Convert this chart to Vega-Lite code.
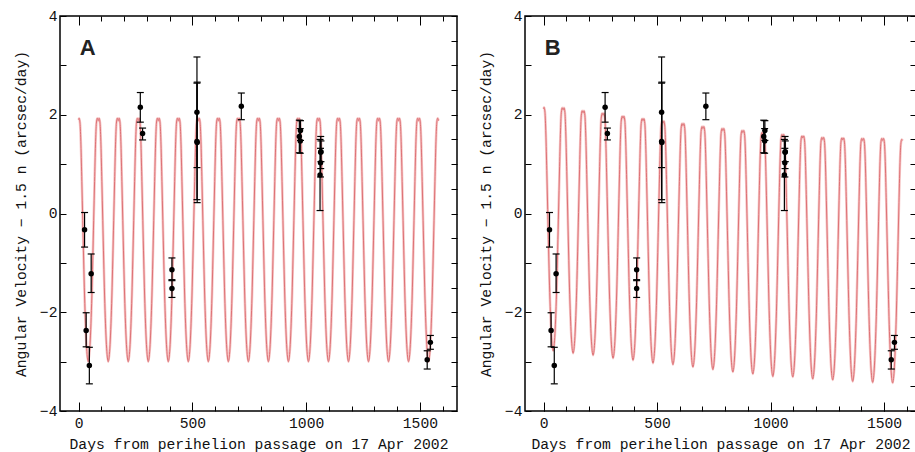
{
"$schema": "https://vega.github.io/schema/vega-lite/v6.json",
"background": "white",
"padding": {"left": 12, "top": 7, "right": 0, "bottom": 0},
"config": {
 "view": {"stroke": "#000", "strokeWidth": 1.5},
 "axis": {"domain": false, "grid": false, "labelFlush": false, "labelFont": "Liberation Mono", "labelFontSize": 14.7, "labelColor": "#111", "titleFont": "Liberation Mono", "titleFontSize": 14.7, "titleFontWeight": "normal", "titleColor": "#111", "tickColor": "#000", "tickWidth": 1}
},
"datasets": {
 "obs": [
  {"d":26,"v":-0.33,"lo":-0.68,"hi":0.02},
  {"d":33,"v":-2.37,"lo":-2.70,"hi":-2.01},
  {"d":47,"v":-3.08,"lo":-3.45,"hi":-2.71},
  {"d":55,"v":-1.22,"lo":-1.60,"hi":-0.82},
  {"d":271,"v":2.15,"lo":1.85,"hi":2.45},
  {"d":281,"v":1.62,"lo":1.49,"hi":1.73},
  {"d":410,"v":-1.14,"lo":-1.34,"hi":-0.90},
  {"d":410,"v":-1.52,"lo":-1.70,"hi":-1.36},
  {"d":520,"v":2.05,"lo":0.93,"hi":3.17},
  {"d":520,"v":1.46,"lo":0.28,"hi":2.64},
  {"d":521,"v":1.44,"lo":0.22,"hi":2.66},
  {"d":715,"v":2.17,"lo":1.90,"hi":2.44},
  {"d":970,"v":1.56,"lo":1.23,"hi":1.89},
  {"d":975,"v":1.68,"lo":1.48,"hi":1.88},
  {"d":974,"v":1.47,"lo":1.22,"hi":1.72},
  {"d":1061,"v":0.78,"lo":0.06,"hi":1.50},
  {"d":1063,"v":1.03,"lo":0.74,"hi":1.32},
  {"d":1064,"v":1.24,"lo":0.91,"hi":1.56},
  {"d":1065,"v":1.25,"lo":1.05,"hi":1.47},
  {"d":1532,"v":-2.96,"lo":-3.15,"hi":-2.78},
  {"d":1546,"v":-2.61,"lo":-2.75,"hi":-2.47}
 ],
 "curve": [
  {"d":0,"a":1.9,"b":2.12},
  {"d":2,"a":1.93,"b":2.15},{"d":6,"a":1.83,"b":2.05},{"d":10,"a":1.39,"b":1.61},{"d":14,"a":0.65,"b":0.87},{"d":18,"a":-0.14,"b":0.08},{"d":26,"a":-1.67,"b":-1.45},{"d":34,"a":-2.65,"b":-2.43},{"d":42,"a":-3,"b":-2.78},{"d":50,"a":-2.65,"b":-2.43},{"d":58,"a":-1.67,"b":-1.45},{"d":66,"a":-0.14,"b":0.07},{"d":70,"a":0.65,"b":0.86},{"d":74,"a":1.39,"b":1.60},{"d":78,"a":1.83,"b":2.04},{"d":82,"a":1.93,"b":2.14},{"d":86,"a":1.88,"b":2.10},
  {"d":90,"a":1.93,"b":2.14},{"d":94,"a":1.83,"b":2.04},{"d":98,"a":1.39,"b":1.59},{"d":102,"a":0.65,"b":0.85},{"d":106,"a":-0.14,"b":0.05},{"d":114,"a":-1.67,"b":-1.49},{"d":122,"a":-2.65,"b":-2.48},{"d":130,"a":-3,"b":-2.83},{"d":138,"a":-2.65,"b":-2.49},{"d":146,"a":-1.67,"b":-1.50},{"d":154,"a":-0.14,"b":0.02},{"d":158,"a":0.65,"b":0.80},{"d":162,"a":1.39,"b":1.54},{"d":166,"a":1.83,"b":1.98},{"d":170,"a":1.93,"b":2.08},{"d":174,"a":1.88,"b":2.04},
  {"d":178,"a":1.93,"b":2.08},{"d":182,"a":1.83,"b":1.98},{"d":186,"a":1.39,"b":1.54},{"d":190,"a":0.65,"b":0.79},{"d":194,"a":-0.14,"b":0.00},{"d":202,"a":-1.67,"b":-1.53},{"d":210,"a":-2.65,"b":-2.52},{"d":218,"a":-3,"b":-2.87},{"d":226,"a":-2.65,"b":-2.53},{"d":234,"a":-1.67,"b":-1.55},{"d":242,"a":-0.14,"b":-0.03},{"d":246,"a":0.65,"b":0.76},{"d":250,"a":1.39,"b":1.49},{"d":254,"a":1.83,"b":1.93},{"d":258,"a":1.93,"b":2.03},{"d":262,"a":1.88,"b":1.99},
  {"d":266,"a":1.93,"b":2.03},{"d":270,"a":1.83,"b":1.93},{"d":274,"a":1.39,"b":1.48},{"d":278,"a":0.65,"b":0.74},{"d":282,"a":-0.14,"b":-0.05},{"d":290,"a":-1.67,"b":-1.59},{"d":298,"a":-2.65,"b":-2.58},{"d":306,"a":-3,"b":-2.93},{"d":314,"a":-2.65,"b":-2.59},{"d":322,"a":-1.67,"b":-1.61},{"d":330,"a":-0.14,"b":-0.09},{"d":334,"a":0.65,"b":0.70},{"d":338,"a":1.39,"b":1.43},{"d":342,"a":1.83,"b":1.87},{"d":346,"a":1.93,"b":1.97},{"d":350,"a":1.88,"b":1.93},
  {"d":354,"a":1.93,"b":1.97},{"d":358,"a":1.83,"b":1.87},{"d":362,"a":1.39,"b":1.43},{"d":366,"a":0.65,"b":0.69},{"d":370,"a":-0.14,"b":-0.10},{"d":378,"a":-1.67,"b":-1.64},{"d":386,"a":-2.65,"b":-2.62},{"d":394,"a":-3,"b":-2.97},{"d":402,"a":-2.65,"b":-2.63},{"d":410,"a":-1.67,"b":-1.65},{"d":418,"a":-0.14,"b":-0.13},{"d":422,"a":0.65,"b":0.65},{"d":426,"a":1.39,"b":1.38},{"d":430,"a":1.83,"b":1.82},{"d":434,"a":1.93,"b":1.92},{"d":438,"a":1.88,"b":1.88},
  {"d":442,"a":1.93,"b":1.92},{"d":446,"a":1.83,"b":1.82},{"d":450,"a":1.39,"b":1.38},{"d":454,"a":0.65,"b":0.63},{"d":458,"a":-0.14,"b":-0.16},{"d":466,"a":-1.67,"b":-1.69},{"d":474,"a":-2.65,"b":-2.68},{"d":482,"a":-3,"b":-3.03},{"d":490,"a":-2.65,"b":-2.69},{"d":498,"a":-1.67,"b":-1.71},{"d":506,"a":-0.14,"b":-0.19},{"d":510,"a":0.65,"b":0.60},{"d":514,"a":1.39,"b":1.33},{"d":518,"a":1.83,"b":1.77},{"d":522,"a":1.93,"b":1.87},{"d":526,"a":1.88,"b":1.83},
  {"d":530,"a":1.93,"b":1.87},{"d":534,"a":1.83,"b":1.77},{"d":538,"a":1.39,"b":1.33},{"d":542,"a":0.65,"b":0.59},{"d":546,"a":-0.14,"b":-0.20},{"d":554,"a":-1.67,"b":-1.73},{"d":562,"a":-2.65,"b":-2.72},{"d":570,"a":-3,"b":-3.06},{"d":578,"a":-2.65,"b":-2.72},{"d":586,"a":-1.67,"b":-1.74},{"d":594,"a":-0.14,"b":-0.23},{"d":598,"a":0.65,"b":0.55},{"d":602,"a":1.39,"b":1.28},{"d":606,"a":1.83,"b":1.72},{"d":610,"a":1.93,"b":1.82},{"d":614,"a":1.88,"b":1.78},
  {"d":618,"a":1.93,"b":1.82},{"d":622,"a":1.83,"b":1.72},{"d":626,"a":1.39,"b":1.28},{"d":630,"a":0.65,"b":0.54},{"d":634,"a":-0.14,"b":-0.25},{"d":642,"a":-1.67,"b":-1.78},{"d":650,"a":-2.65,"b":-2.77},{"d":658,"a":-3,"b":-3.11},{"d":666,"a":-2.65,"b":-2.77},{"d":674,"a":-1.67,"b":-1.80},{"d":682,"a":-0.14,"b":-0.29},{"d":686,"a":0.65,"b":0.49},{"d":690,"a":1.39,"b":1.22},{"d":694,"a":1.83,"b":1.66},{"d":698,"a":1.93,"b":1.76},{"d":702,"a":1.88,"b":1.72},
  {"d":706,"a":1.93,"b":1.76},{"d":710,"a":1.83,"b":1.66},{"d":714,"a":1.39,"b":1.22},{"d":718,"a":0.65,"b":0.48},{"d":722,"a":-0.14,"b":-0.31},{"d":730,"a":-1.67,"b":-1.83},{"d":738,"a":-2.65,"b":-2.82},{"d":746,"a":-3,"b":-3.16},{"d":754,"a":-2.65,"b":-2.82},{"d":762,"a":-1.67,"b":-1.84},{"d":770,"a":-0.14,"b":-0.33},{"d":774,"a":0.65,"b":0.45},{"d":778,"a":1.39,"b":1.18},{"d":782,"a":1.83,"b":1.62},{"d":786,"a":1.93,"b":1.72},{"d":790,"a":1.88,"b":1.68},
  {"d":794,"a":1.93,"b":1.72},{"d":798,"a":1.83,"b":1.62},{"d":802,"a":1.39,"b":1.18},{"d":806,"a":0.65,"b":0.44},{"d":810,"a":-0.14,"b":-0.35},{"d":818,"a":-1.67,"b":-1.88},{"d":826,"a":-2.65,"b":-2.87},{"d":834,"a":-3,"b":-3.21},{"d":842,"a":-2.65,"b":-2.87},{"d":850,"a":-1.67,"b":-1.89},{"d":858,"a":-0.14,"b":-0.37},{"d":862,"a":0.65,"b":0.41},{"d":866,"a":1.39,"b":1.14},{"d":870,"a":1.83,"b":1.58},{"d":874,"a":1.93,"b":1.68},{"d":878,"a":1.88,"b":1.64},
  {"d":882,"a":1.93,"b":1.68},{"d":886,"a":1.83,"b":1.58},{"d":890,"a":1.39,"b":1.14},{"d":894,"a":0.65,"b":0.40},{"d":898,"a":-0.14,"b":-0.39},{"d":906,"a":-1.67,"b":-1.92},{"d":914,"a":-2.65,"b":-2.91},{"d":922,"a":-3,"b":-3.25},{"d":930,"a":-2.65,"b":-2.91},{"d":938,"a":-1.67,"b":-1.93},{"d":946,"a":-0.14,"b":-0.41},{"d":950,"a":0.65,"b":0.37},{"d":954,"a":1.39,"b":1.10},{"d":958,"a":1.83,"b":1.54},{"d":962,"a":1.93,"b":1.64},{"d":966,"a":1.88,"b":1.60},
  {"d":970,"a":1.93,"b":1.64},{"d":974,"a":1.83,"b":1.54},{"d":978,"a":1.39,"b":1.10},{"d":982,"a":0.65,"b":0.36},{"d":986,"a":-0.14,"b":-0.44},{"d":994,"a":-1.67,"b":-1.97},{"d":1002,"a":-2.65,"b":-2.95},{"d":1010,"a":-3,"b":-3.30},{"d":1018,"a":-2.65,"b":-2.96},{"d":1026,"a":-1.67,"b":-1.98},{"d":1034,"a":-0.14,"b":-0.46},{"d":1038,"a":0.65,"b":0.33},{"d":1042,"a":1.39,"b":1.06},{"d":1046,"a":1.83,"b":1.50},{"d":1050,"a":1.93,"b":1.60},{"d":1054,"a":1.88,"b":1.56},
  {"d":1058,"a":1.93,"b":1.60},{"d":1062,"a":1.83,"b":1.50},{"d":1066,"a":1.39,"b":1.06},{"d":1070,"a":0.65,"b":0.32},{"d":1074,"a":-0.14,"b":-0.46},{"d":1082,"a":-1.67,"b":-1.98},{"d":1090,"a":-2.65,"b":-2.97},{"d":1098,"a":-3,"b":-3.31},{"d":1106,"a":-2.65,"b":-2.97},{"d":1114,"a":-1.67,"b":-1.99},{"d":1122,"a":-0.14,"b":-0.48},{"d":1126,"a":0.65,"b":0.30},{"d":1130,"a":1.39,"b":1.03},{"d":1134,"a":1.83,"b":1.47},{"d":1138,"a":1.93,"b":1.57},{"d":1142,"a":1.88,"b":1.53},
  {"d":1146,"a":1.93,"b":1.57},{"d":1150,"a":1.83,"b":1.47},{"d":1154,"a":1.39,"b":1.03},{"d":1158,"a":0.65,"b":0.29},{"d":1162,"a":-0.14,"b":-0.50},{"d":1170,"a":-1.67,"b":-2.02},{"d":1178,"a":-2.65,"b":-3.01},{"d":1186,"a":-3,"b":-3.35},{"d":1194,"a":-2.65,"b":-3.01},{"d":1202,"a":-1.67,"b":-2.03},{"d":1210,"a":-0.14,"b":-0.51},{"d":1214,"a":0.65,"b":0.27},{"d":1218,"a":1.39,"b":1.00},{"d":1222,"a":1.83,"b":1.44},{"d":1226,"a":1.93,"b":1.54},{"d":1230,"a":1.88,"b":1.50},
  {"d":1234,"a":1.93,"b":1.54},{"d":1238,"a":1.83,"b":1.44},{"d":1242,"a":1.39,"b":1.00},{"d":1246,"a":0.65,"b":0.26},{"d":1250,"a":-0.14,"b":-0.52},{"d":1258,"a":-1.67,"b":-2.04},{"d":1266,"a":-2.65,"b":-3.03},{"d":1274,"a":-3,"b":-3.37},{"d":1282,"a":-2.65,"b":-3.03},{"d":1290,"a":-1.67,"b":-2.05},{"d":1298,"a":-0.14,"b":-0.53},{"d":1302,"a":0.65,"b":0.26},{"d":1306,"a":1.39,"b":0.99},{"d":1310,"a":1.83,"b":1.43},{"d":1314,"a":1.93,"b":1.53},{"d":1318,"a":1.88,"b":1.49},
  {"d":1322,"a":1.93,"b":1.53},{"d":1326,"a":1.83,"b":1.43},{"d":1330,"a":1.39,"b":0.99},{"d":1334,"a":0.65,"b":0.25},{"d":1338,"a":-0.14,"b":-0.54},{"d":1346,"a":-1.67,"b":-2.07},{"d":1354,"a":-2.65,"b":-3.06},{"d":1362,"a":-3,"b":-3.40},{"d":1370,"a":-2.65,"b":-3.06},{"d":1378,"a":-1.67,"b":-2.07},{"d":1386,"a":-0.14,"b":-0.55},{"d":1390,"a":0.65,"b":0.24},{"d":1394,"a":1.39,"b":0.98},{"d":1398,"a":1.83,"b":1.42},{"d":1402,"a":1.93,"b":1.52},{"d":1406,"a":1.88,"b":1.48},
  {"d":1410,"a":1.93,"b":1.52},{"d":1414,"a":1.83,"b":1.42},{"d":1418,"a":1.39,"b":0.98},{"d":1422,"a":0.65,"b":0.24},{"d":1426,"a":-0.14,"b":-0.56},{"d":1434,"a":-1.67,"b":-2.09},{"d":1442,"a":-2.65,"b":-3.07},{"d":1450,"a":-3,"b":-3.42},{"d":1458,"a":-2.65,"b":-3.07},{"d":1466,"a":-1.67,"b":-2.09},{"d":1474,"a":-0.14,"b":-0.56},{"d":1478,"a":0.65,"b":0.24},{"d":1482,"a":1.39,"b":0.98},{"d":1486,"a":1.83,"b":1.42},{"d":1490,"a":1.93,"b":1.52},{"d":1494,"a":1.88,"b":1.48},
  {"d":1498,"a":1.93,"b":1.52},{"d":1502,"a":1.83,"b":1.42},{"d":1506,"a":1.39,"b":0.98},{"d":1510,"a":0.65,"b":0.23},{"d":1514,"a":-0.14,"b":-0.56},{"d":1522,"a":-1.67,"b":-2.09},{"d":1530,"a":-2.65,"b":-3.08},{"d":1538,"a":-3,"b":-3.43},{"d":1546,"a":-2.65,"b":-3.09},{"d":1554,"a":-1.67,"b":-2.10},{"d":1562,"a":-0.14,"b":-0.57},{"d":1566,"a":0.65,"b":0.22},{"d":1570,"a":1.39,"b":0.96},{"d":1574,"a":1.83,"b":1.40},{"d":1578,"a":1.93,"b":1.50},{"d":1582,"a":1.88,"b":1.48}
 ]
},
"hconcat": [
 {
  "width": 397, "height": 395,
  "resolve": {"scale": {"x": "independent", "y": "independent"}},
  "layer": [
   {"layer": [
    {"data": {"name": "curve"}, "mark": {"type": "line", "interpolate": "monotone", "color": "#f6c6c6", "strokeWidth": 2.6},
     "encoding": {
      "x": {"field": "d", "type": "quantitative", "scale": {"domain": [-82, 1663], "nice": false, "zero": false},
       "axis": {"orient": "bottom", "values": [0, 500, 1000, 1500], "format": "d", "tickSize": -9, "labelPadding": 13, "minExtent": 22, "maxExtent": 22, "title": "Days from perihelion passage on 17 Apr 2002", "titlePadding": 3}},
      "y": {"field": "a", "type": "quantitative", "scale": {"domain": [-4, 4], "nice": false, "zero": false},
       "axis": {"orient": "left", "values": [-4,-3.5,-3,-2.5,-2,-1.5,-1,-0.5,0,0.5,1,1.5,2,2.5,3,3.5,4], "tickSize": -6, "labelPadding": 9, "labelExpr": "datum.value % 2 === 0 ? format(datum.value, 'd') : ''", "minExtent": 23, "maxExtent": 23, "title": "Angular Velocity − 1.5 n (arcsec/day)", "titlePadding": 9}}}},
    {"data": {"name": "curve"}, "mark": {"type": "line", "interpolate": "monotone", "color": "#de7276", "strokeWidth": 1},
     "encoding": {"x": {"field": "d", "type": "quantitative"}, "y": {"field": "a", "type": "quantitative"}}},
    {"data": {"name": "obs"}, "mark": {"type": "rule", "color": "#000", "strokeWidth": 1.2},
     "encoding": {"x": {"field": "d", "type": "quantitative"}, "y": {"field": "lo", "type": "quantitative"}, "y2": {"field": "hi"}}},
    {"data": {"name": "obs"}, "mark": {"type": "tick", "orient": "horizontal", "color": "#000", "size": 7, "thickness": 1.2, "opacity": 1},
     "encoding": {"x": {"field": "d", "type": "quantitative"}, "y": {"field": "lo", "type": "quantitative"}}},
    {"data": {"name": "obs"}, "mark": {"type": "tick", "orient": "horizontal", "color": "#000", "size": 7, "thickness": 1.2, "opacity": 1},
     "encoding": {"x": {"field": "d", "type": "quantitative"}, "y": {"field": "hi", "type": "quantitative"}}},
    {"data": {"name": "obs"}, "mark": {"type": "circle", "color": "#000", "size": 30, "opacity": 1},
     "encoding": {"x": {"field": "d", "type": "quantitative"}, "y": {"field": "v", "type": "quantitative"}}},
    {"data": {"values": [{}]}, "mark": {"type": "text", "text": "A", "font": "Liberation Sans", "fontSize": 22, "fontWeight": "bold", "align": "left", "baseline": "alphabetic", "color": "#222"},
     "encoding": {"x": {"datum": 5, "type": "quantitative"}, "y": {"datum": 3.22, "type": "quantitative"}}}
   ]},
   {"data": {"name": "obs"}, "mark": {"type": "point", "opacity": 0},
    "encoding": {
     "x": {"field": "d", "type": "quantitative", "scale": {"domain": [-82, 1663], "nice": false, "zero": false},
      "axis": {"orient": "bottom", "values": [0,100,200,300,400,500,600,700,800,900,1000,1100,1200,1300,1400,1500,1600], "tickSize": -5, "labels": false, "title": null}},
     "y": {"field": "v", "type": "quantitative", "scale": {"domain": [-4, 4], "nice": false, "zero": false},
      "axis": {"orient": "right", "values": [-4,-3.5,-3,-2.5,-2,-1.5,-1,-0.5,0,0.5,1,1.5,2,2.5,3,3.5,4], "tickSize": -6, "labels": false, "title": null}}}},
   {"data": {"name": "obs"}, "mark": {"type": "point", "opacity": 0},
    "encoding": {
     "x": {"field": "d", "type": "quantitative", "scale": {"domain": [-82, 1663], "nice": false, "zero": false},
      "axis": {"orient": "top", "values": [0, 500, 1000, 1500], "tickSize": -9, "labels": false, "title": null}},
     "y": {"field": "v", "type": "quantitative", "scale": {"domain": [-4, 4], "nice": false, "zero": false}, "axis": null}}},
   {"data": {"name": "obs"}, "mark": {"type": "point", "opacity": 0},
    "encoding": {
     "x": {"field": "d", "type": "quantitative", "scale": {"domain": [-82, 1663], "nice": false, "zero": false},
      "axis": {"orient": "top", "values": [0,100,200,300,400,500,600,700,800,900,1000,1100,1200,1300,1400,1500,1600], "tickSize": -5, "labels": false, "title": null}},
     "y": {"field": "v", "type": "quantitative", "scale": {"domain": [-4, 4], "nice": false, "zero": false}, "axis": null}}}
  ]
 },
 {
  "width": 391, "height": 395,
  "resolve": {"scale": {"x": "independent", "y": "independent"}},
  "layer": [
   {"layer": [
    {"data": {"name": "curve"}, "mark": {"type": "line", "interpolate": "monotone", "color": "#f6c6c6", "strokeWidth": 2.6},
     "encoding": {
      "x": {"field": "d", "type": "quantitative", "scale": {"domain": [-82, 1641], "nice": false, "zero": false},
       "axis": {"orient": "bottom", "values": [0, 500, 1000, 1500], "format": "d", "tickSize": -9, "labelPadding": 13, "minExtent": 22, "maxExtent": 22, "title": "Days from perihelion passage on 17 Apr 2002", "titlePadding": 3}},
      "y": {"field": "b", "type": "quantitative", "scale": {"domain": [-4, 4], "nice": false, "zero": false},
       "axis": {"orient": "left", "values": [-4,-3.5,-3,-2.5,-2,-1.5,-1,-0.5,0,0.5,1,1.5,2,2.5,3,3.5,4], "tickSize": -6, "labelPadding": 9, "labelExpr": "datum.value % 2 === 0 ? format(datum.value, 'd') : ''", "minExtent": 23, "maxExtent": 23, "title": "Angular Velocity − 1.5 n (arcsec/day)", "titlePadding": 9}}}},
    {"data": {"name": "curve"}, "mark": {"type": "line", "interpolate": "monotone", "color": "#de7276", "strokeWidth": 1},
     "encoding": {"x": {"field": "d", "type": "quantitative"}, "y": {"field": "b", "type": "quantitative"}}},
    {"data": {"name": "obs"}, "mark": {"type": "rule", "color": "#000", "strokeWidth": 1.2},
     "encoding": {"x": {"field": "d", "type": "quantitative"}, "y": {"field": "lo", "type": "quantitative"}, "y2": {"field": "hi"}}},
    {"data": {"name": "obs"}, "mark": {"type": "tick", "orient": "horizontal", "color": "#000", "size": 7, "thickness": 1.2, "opacity": 1},
     "encoding": {"x": {"field": "d", "type": "quantitative"}, "y": {"field": "lo", "type": "quantitative"}}},
    {"data": {"name": "obs"}, "mark": {"type": "tick", "orient": "horizontal", "color": "#000", "size": 7, "thickness": 1.2, "opacity": 1},
     "encoding": {"x": {"field": "d", "type": "quantitative"}, "y": {"field": "hi", "type": "quantitative"}}},
    {"data": {"name": "obs"}, "mark": {"type": "circle", "color": "#000", "size": 30, "opacity": 1},
     "encoding": {"x": {"field": "d", "type": "quantitative"}, "y": {"field": "v", "type": "quantitative"}}},
    {"data": {"values": [{}]}, "mark": {"type": "text", "text": "B", "font": "Liberation Sans", "fontSize": 22, "fontWeight": "bold", "align": "left", "baseline": "alphabetic", "color": "#222"},
     "encoding": {"x": {"datum": 5, "type": "quantitative"}, "y": {"datum": 3.22, "type": "quantitative"}}}
   ]},
   {"data": {"name": "obs"}, "mark": {"type": "point", "opacity": 0},
    "encoding": {
     "x": {"field": "d", "type": "quantitative", "scale": {"domain": [-82, 1641], "nice": false, "zero": false},
      "axis": {"orient": "bottom", "values": [0,100,200,300,400,500,600,700,800,900,1000,1100,1200,1300,1400,1500,1600], "tickSize": -5, "labels": false, "title": null}},
     "y": {"field": "v", "type": "quantitative", "scale": {"domain": [-4, 4], "nice": false, "zero": false},
      "axis": {"orient": "right", "values": [-4,-3.5,-3,-2.5,-2,-1.5,-1,-0.5,0,0.5,1,1.5,2,2.5,3,3.5,4], "tickSize": -6, "labels": false, "title": null}}}},
   {"data": {"name": "obs"}, "mark": {"type": "point", "opacity": 0},
    "encoding": {
     "x": {"field": "d", "type": "quantitative", "scale": {"domain": [-82, 1641], "nice": false, "zero": false},
      "axis": {"orient": "top", "values": [0, 500, 1000, 1500], "tickSize": -9, "labels": false, "title": null}},
     "y": {"field": "v", "type": "quantitative", "scale": {"domain": [-4, 4], "nice": false, "zero": false}, "axis": null}}},
   {"data": {"name": "obs"}, "mark": {"type": "point", "opacity": 0},
    "encoding": {
     "x": {"field": "d", "type": "quantitative", "scale": {"domain": [-82, 1641], "nice": false, "zero": false},
      "axis": {"orient": "top", "values": [0,100,200,300,400,500,600,700,800,900,1000,1100,1200,1300,1400,1500,1600], "tickSize": -5, "labels": false, "title": null}},
     "y": {"field": "v", "type": "quantitative", "scale": {"domain": [-4, 4], "nice": false, "zero": false}, "axis": null}}}
  ]
 }
],
"spacing": 68,
"bounds": "flush"
}
